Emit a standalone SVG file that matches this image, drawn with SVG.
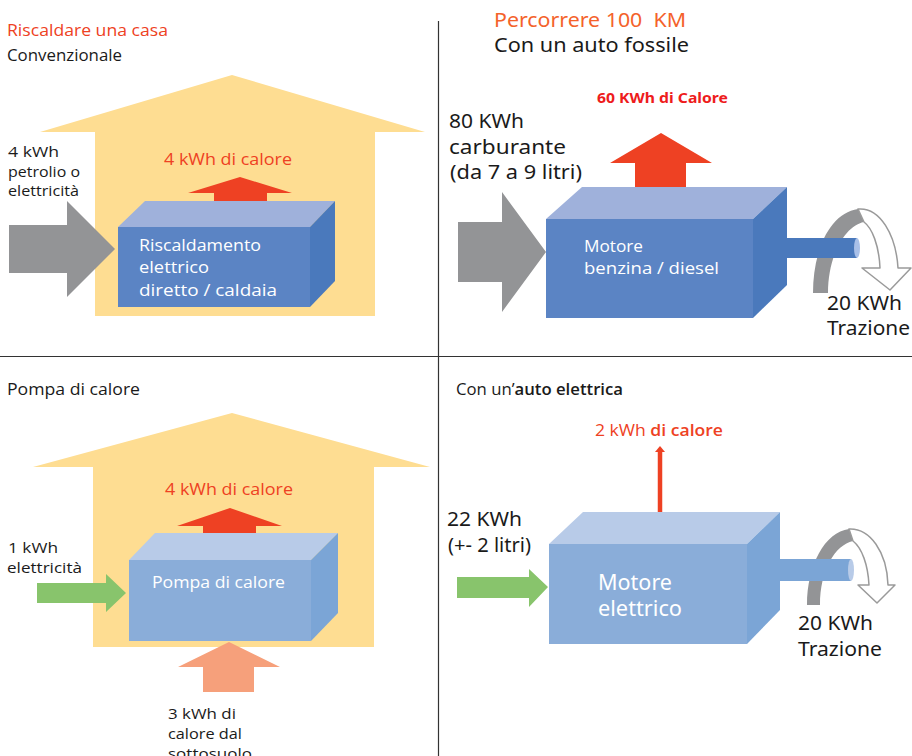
<svg xmlns="http://www.w3.org/2000/svg" width="912" height="756" viewBox="0 0 912 756">
<style>
.sg{font-family:"Open Sans","Noto Sans",sans-serif}
.cg{font-family:"Noto Sans","DejaVu Sans",sans-serif}
.red{fill:#ee4123}
.blk{fill:#1a1a1a}
.wht{fill:#ffffff}
.house{fill:#fedd92}
.gray{fill:#939496}
.green{fill:#88c46c}
.div{stroke:#333;stroke-width:1.2}
</style>
<rect width="912" height="756" fill="#ffffff"/>
<g id="dividers">
<line class="div" x1="438.5" y1="21" x2="438.5" y2="756"/>
<line class="div" x1="0" y1="356.5" x2="912" y2="356.5"/>
</g>

<g id="titles">
<text class="sg red" x="7" y="36" font-size="17" textLength="161" lengthAdjust="spacingAndGlyphs">Riscaldare una casa</text>
<text class="sg blk" x="7" y="61" font-size="16" textLength="115" lengthAdjust="spacingAndGlyphs">Convenzionale</text>
<text class="cg" x="494" y="27" font-size="20" fill="#f4622a" textLength="192" lengthAdjust="spacingAndGlyphs">Percorrere 100&#160; KM</text>
<text class="cg blk" x="494" y="52" font-size="20" textLength="195" lengthAdjust="spacingAndGlyphs">Con un auto fossile</text>
<text class="sg blk" x="7" y="395" font-size="16" textLength="133" lengthAdjust="spacingAndGlyphs">Pompa di calore</text>
<text class="sg blk" x="456" y="395" font-size="16" textLength="167" lengthAdjust="spacingAndGlyphs">Con un’<tspan font-weight="600">auto elettrica</tspan></text>
</g>

<!-- Top-left: conventional heating -->
<g id="house1">
<polygon class="house" points="232,75 425,132 375,132 375,316 95,316 95,132 40,132"/>
</g>
<g id="input1">
<polygon class="gray" points="9,225 67,225 67,201 115,249 67,297 67,273 9,273"/>
<text class="sg blk" x="8" y="157" font-size="15" textLength="51" lengthAdjust="spacingAndGlyphs">4 kWh</text>
<text class="sg blk" x="8" y="177" font-size="15" textLength="72" lengthAdjust="spacingAndGlyphs">petrolio o</text>
<text class="sg blk" x="8" y="196" font-size="15" textLength="71" lengthAdjust="spacingAndGlyphs">elettricità</text>
</g>
<g id="heat1">
<polygon fill="#ee4123" points="188,193 240,177 292,193 267,193 267,213 214,213 214,193"/>
<text class="sg red" x="164" y="165" font-size="17" textLength="128" lengthAdjust="spacingAndGlyphs">4 kWh di calore</text>
</g>
<g id="box1">
<polygon fill="#9fb1db" points="118,227 145,201 335,201 310,227"/>
<polygon fill="#4a79bc" points="310,227 335,201 335,281 310,307"/>
<rect x="118" y="227" width="192" height="80" fill="#5b84c4"/>
<text class="sg wht" x="139" y="251" font-size="17" textLength="122" lengthAdjust="spacingAndGlyphs">Riscaldamento</text>
<text class="sg wht" x="139" y="273" font-size="17" textLength="70" lengthAdjust="spacingAndGlyphs">elettrico</text>
<text class="sg wht" x="139" y="296" font-size="17" textLength="138" lengthAdjust="spacingAndGlyphs">diretto / caldaia</text>
</g>

<!-- Top-right: fossil car -->
<g id="input2">
<polygon class="gray" points="458,222 502,222 502,192 546,252 502,312 502,282 458,282"/>
<text class="cg blk" x="449" y="128" font-size="20" textLength="75" lengthAdjust="spacingAndGlyphs">80 KWh</text>
<text class="cg blk" x="449" y="154" font-size="20" textLength="117" lengthAdjust="spacingAndGlyphs">carburante</text>
<text class="cg blk" x="450" y="179" font-size="20" textLength="132" lengthAdjust="spacingAndGlyphs">(da 7 a 9 litri)</text>
</g>
<g id="heat2">
<polygon fill="#ee4123" points="610,163 661,133 712,163 686,163 686,195 635,195 635,163"/>
<text class="cg" x="597" y="103" font-size="14" font-weight="bold" fill="#ee1c1c" textLength="131" lengthAdjust="spacingAndGlyphs">60 KWh di Calore</text>
</g>
<g id="rotation2">
<path class="gray" d="M813,293 C813,250 830,213 858,209 L864,222 C845,226 828,255 828,293 Z"/>
<path d="M858,209 C880,207 896,235 898,268 L911,268 L890,290 L862,268 L880,268 C879,245 872,228 864,222 Z" fill="#ffffff" stroke="#9a9a9a" stroke-width="1.5" stroke-linejoin="round"/>
</g>
<g id="motor1">
<polygon fill="#9fb1db" points="546,219 582,187 787,187 753,219"/>
<polygon fill="#4a79bc" points="753,219 787,187 787,285 753,318"/>
<rect x="546" y="219" width="207" height="99" fill="#5b84c4"/>
<rect x="787" y="238" width="70" height="20" fill="#4a79bc"/>
<ellipse cx="857" cy="248" rx="3" ry="10" fill="#a9c0e8"/>
<text class="sg wht" x="584" y="252" font-size="17" textLength="59" lengthAdjust="spacingAndGlyphs">Motore</text>
<text class="sg wht" x="584" y="274" font-size="17" textLength="135" lengthAdjust="spacingAndGlyphs">benzina / diesel</text>
</g>
<g id="traction1">
<text class="cg blk" x="827" y="310" font-size="20" textLength="75" lengthAdjust="spacingAndGlyphs">20 KWh</text>
<text class="cg blk" x="827" y="335" font-size="20" textLength="83" lengthAdjust="spacingAndGlyphs">Trazione</text>
</g>

<!-- Bottom-left: heat pump -->
<g id="house2">
<polygon class="house" points="232,413 430,467 374,467 374,647 93,647 93,467 33,467"/>
</g>
<g id="heat3">
<polygon fill="#ee4123" points="177,526 230,508 282,526 256,526 256,544 203,544 203,526"/>
<text class="sg red" x="165" y="495" font-size="17" textLength="128" lengthAdjust="spacingAndGlyphs">4 kWh di calore</text>
</g>
<g id="box2">
<polygon fill="#b8cbe8" points="129,560 155,533 338,533 311,560"/>
<polygon fill="#7ba5d6" points="311,560 338,533 338,613 311,641"/>
<rect x="129" y="560" width="182" height="81" fill="#8aadd9"/>
<text class="sg wht" x="152" y="588" font-size="17" textLength="133" lengthAdjust="spacingAndGlyphs">Pompa di calore</text>
</g>
<g id="input3">
<polygon class="green" points="37,583 106,583 106,574 126,593 106,612 106,603 37,603"/>
<text class="sg blk" x="8" y="553" font-size="15" textLength="50" lengthAdjust="spacingAndGlyphs">1 kWh</text>
<text class="sg blk" x="7" y="573" font-size="15" textLength="75" lengthAdjust="spacingAndGlyphs">elettricità</text>
</g>
<g id="ground">
<polygon fill="#f6a07b" points="178,667 229,642 280,667 254,667 254,692 203,692 203,667"/>
<text class="sg blk" x="168" y="719" font-size="15" textLength="68" lengthAdjust="spacingAndGlyphs">3 kWh di</text>
<text class="sg blk" x="168" y="739" font-size="15" textLength="74" lengthAdjust="spacingAndGlyphs">calore dal</text>
<text class="sg blk" x="168" y="759" font-size="15" textLength="84" lengthAdjust="spacingAndGlyphs">sottosuolo</text>
</g>

<!-- Bottom-right: electric car -->
<g id="heat4">
<line x1="660" y1="515" x2="660" y2="451" stroke="#ee4123" stroke-width="4.5"/>
<polygon fill="#ee4123" points="655,452 665,452 660,446"/>
<text class="sg red" x="595" y="436" font-size="17" textLength="128" lengthAdjust="spacingAndGlyphs">2 kWh <tspan font-weight="600">di calore</tspan></text>
</g>
<g id="rotation4">
<path class="gray" d="M807,605 C807,565 825,532 849,529 L853,541 C835,545 820,570 820,605 Z"/>
<path d="M849,529 C870,528 887,552 888,585 L895,585 L877,603 L858,585 L869,585 C868,565 862,548 853,541 Z" fill="#ffffff" stroke="#9a9a9a" stroke-width="1.5" stroke-linejoin="round"/>
</g>
<g id="motor2">
<polygon fill="#b8cbe8" points="549,544 583,512 780,512 747,544"/>
<polygon fill="#7ba5d6" points="747,544 780,512 780,610 747,644"/>
<rect x="549" y="544" width="198" height="100" fill="#8aadd9"/>
<rect x="780" y="559" width="71" height="22" fill="#7ba5d6"/>
<ellipse cx="851" cy="570" rx="3" ry="11" fill="#b8cbe8"/>
<text class="cg wht" x="598" y="590" font-size="21" textLength="74" lengthAdjust="spacingAndGlyphs">Motore</text>
<text class="cg wht" x="598" y="616" font-size="21" textLength="84" lengthAdjust="spacingAndGlyphs">elettrico</text>
</g>
<g id="input4">
<polygon class="green" points="457,577 529,577 529,569 548,587 529,607 529,598 457,598"/>
<text class="cg blk" x="447" y="526" font-size="20" textLength="75" lengthAdjust="spacingAndGlyphs">22 KWh</text>
<text class="cg blk" x="448" y="552" font-size="20" textLength="83" lengthAdjust="spacingAndGlyphs">(+- 2 litri)</text>
</g>
<g id="traction2">
<text class="cg blk" x="798" y="630" font-size="20" textLength="75" lengthAdjust="spacingAndGlyphs">20 KWh</text>
<text class="cg blk" x="798" y="656" font-size="20" textLength="84" lengthAdjust="spacingAndGlyphs">Trazione</text>
</g>
</svg>
